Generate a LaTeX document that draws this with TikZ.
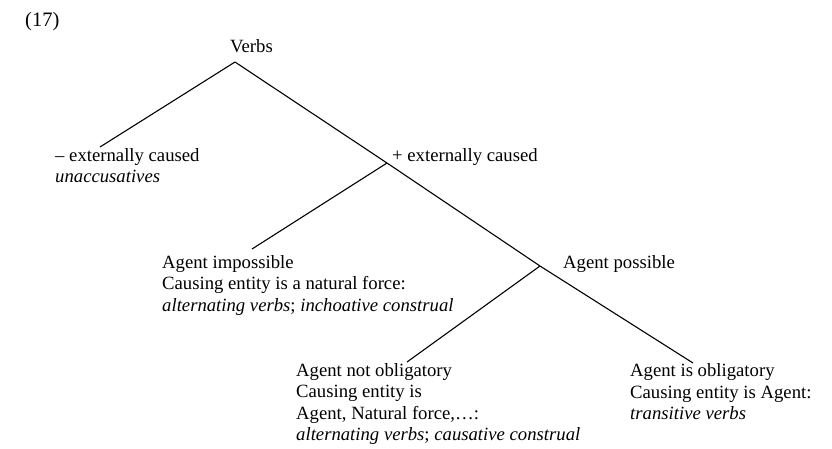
\documentclass[tikz,border=0pt]{standalone}
\usepackage{fontspec}
\setmainfont{Liberation Serif}
\begin{document}
\begin{tikzpicture}[x=1pt,y=-1pt,
  lbl/.style={anchor=base west,inner sep=0pt,align=left,font=\fontsize{18.7}{21.3}\selectfont},
  branch/.style={line width=1.1pt,line join=miter}]
\useasboundingbox (0,0) rectangle (832,448);
\fill[white] (0,0) rectangle (832,448);
% labels (base anchor = baseline of the last line)
\node[lbl,font=\fontsize{20.5}{22}\selectfont] (ex) at (25,26) {(17)};
\node[lbl] (verbs) at (230,52) {Verbs};
\node[lbl] (minus) at (55,182.3) {– externally caused\\\textit{unaccusatives}};
\node[lbl] (plus) at (392,161) {+ externally caused};
\node[lbl] (imp) at (162,311) {Agent impossible\\Causing entity is a natural force:\\\textit{alternating verbs}; \textit{inchoative construal}};
\node[lbl] (poss) at (563,268) {Agent possible};
\node[lbl] (notob) at (296,440.5) {Agent not obligatory\\Causing entity is\\Agent, Natural force,…:\\\textit{alternating verbs}; \textit{causative construal}};
\node[lbl] (ob) at (630,419.5) {Agent is obligatory\\Causing entity is Agent:\\\textit{transitive verbs}};
% branch points
\coordinate (apex) at (235,62);
\coordinate (j1) at (387,163);
\coordinate (j2) at (540,266);
\coordinate (e1) at (100,147);
\coordinate (e3) at (252,249);
\coordinate (e4) at (407,362);
\coordinate (e5) at (693,363);
% branches
\draw[branch] (apex) -- (e1);
\draw[branch] (apex) -- (j1) -- (j2) -- (e5);
\draw[branch] (j1) -- (e3);
\draw[branch] (j2) -- (e4);
\end{tikzpicture}
\end{document}
